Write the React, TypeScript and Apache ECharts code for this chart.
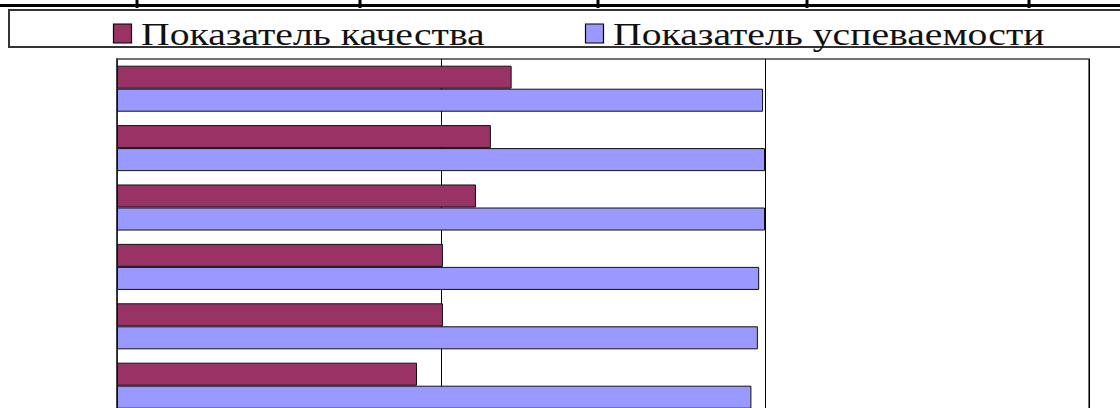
import React, { useEffect, useRef } from "react";
import * as echarts from "echarts";

const categories = ["1", "2", "3", "4", "5", "6"];
const qualityName = "Показатель качества";
const progressName = "Показатель успеваемости";
const qualityValues = [60.9, 57.7, 55.4, 50.3, 50.3, 46.3];
const progressValues = [99.7, 100, 100, 99.1, 98.9, 97.9];
const tableColumnLines = [137, 360, 598, 807, 1029];
const qualityColor = "#993366";
const progressColor = "#9999FF";

export default function App() {
  const ref = useRef<HTMLDivElement>(null);
  useEffect(() => {
    if (!ref.current) return;
    const chart = echarts.init(ref.current, null, { renderer: "svg" });
    const font = "Liberation Serif";
    const legendItem = (x: number, textX: number, color: string, label: string) => [
      {
        type: "rect",
        shape: { x: x + 0.5, y: 24, width: 18, height: 19 },
        style: { fill: color, stroke: "#000", lineWidth: 1.2 },
        z: 5,
      },
      {
        type: "text",
        x: textX,
        y: 50,
        scaleX: 1.24,
        style: {
          text: label,
          fontFamily: font,
          fontSize: 32,
          fill: "#111",
          textAlign: "left",
          textVerticalAlign: "bottom",
        },
        z: 5,
      },
    ];
    const graphics: any[] = [
      {
        type: "rect",
        shape: { x: 9, y: 10, width: 1200, height: 37 },
        style: { fill: "none", stroke: "#333", lineWidth: 2 },
        z: 1,
      },
      {
        type: "line",
        shape: { x1: 0, y1: 5.5, x2: 1120, y2: 5.5 },
        style: { stroke: "#000", lineWidth: 3 },
      },
      ...tableColumnLines.map((x) => ({
        type: "line",
        shape: { x1: x, y1: 0, x2: x, y2: 8 },
        style: { stroke: "#000", lineWidth: 3 },
      })),
      ...legendItem(113, 141, qualityColor, qualityName),
      ...legendItem(585, 613, progressColor, progressName),
    ];
    chart.setOption({
      animation: false,
      backgroundColor: "#fff",
      graphic: graphics,
      grid: {
        left: 117,
        top: 59,
        width: 972,
        height: 356.4,
        show: true,
        borderColor: "#444",
        borderWidth: 1.5,
        backgroundColor: "transparent",
      },
      xAxis: {
        type: "value",
        min: 0,
        max: 150,
        interval: 50,
        axisLabel: { show: false },
        axisTick: { show: false },
        axisLine: { show: false },
        splitLine: { show: true, lineStyle: { color: "#000", width: 1 } },
      },
      yAxis: {
        type: "category",
        data: categories,
        inverse: true,
        axisLabel: { show: false },
        axisTick: { show: false },
        axisLine: { show: true, lineStyle: { color: "#333", width: 1.5 } },
      },
      series: [
        {
          name: qualityName,
          type: "bar",
          data: qualityValues,
          barGap: "0%",
          barCategoryGap: "22.5%",
          itemStyle: { color: qualityColor, borderColor: "#111", borderWidth: 1 },
        },
        {
          name: progressName,
          type: "bar",
          data: progressValues,
          barGap: "0%",
          barCategoryGap: "22.5%",
          itemStyle: { color: progressColor, borderColor: "#111", borderWidth: 1 },
        },
      ],
    });
    return () => chart.dispose();
  }, []);
  return (
    <div
      style={{
        position: "absolute",
        left: 0,
        top: 0,
        width: 1120,
        height: 408,
        overflow: "hidden",
      }}
    >
      <div ref={ref} style={{ width: 1120, height: 440 }} />
    </div>
  );
}
